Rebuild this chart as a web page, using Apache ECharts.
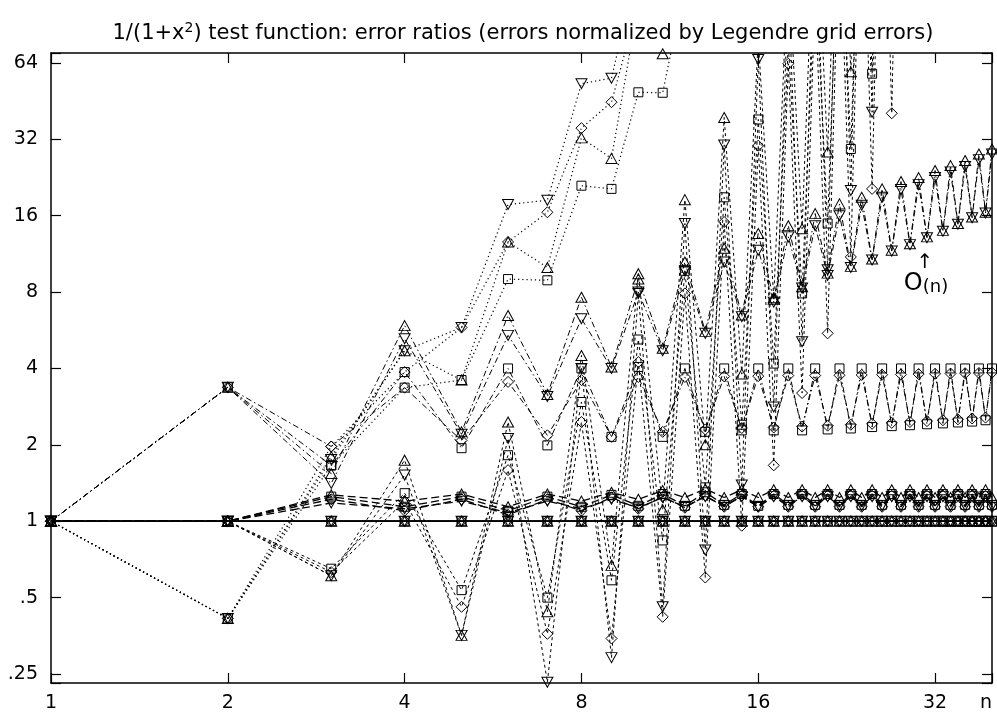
<!DOCTYPE html>
<html><head><meta charset="utf-8">
<script src="https://cdn.jsdelivr.net/npm/echarts@6/dist/echarts.min.js"></script>
<style>html,body{margin:0;padding:0;background:#fff}#c{width:997px;height:715px}</style>
</head><body><div id="c"></div>
<script>
// ---------- data ----------
const n = [1,2,3,4,5,6,7,8,9,10,11,12,13,14,15,16,17,18,19,20,21,22,23,24,25,26,27,28,29,30,31,32,33,34,35,36,37,38,39,40];
const xTickLabels = ['1','2','4','8','16','32'];
const yTickLabels = ['.25','.5','1','2','4','8','16','32','64'];

// Legendre grid (reference, ratio 1)
const legendre = [1,1,1,1,1,1,1,1,1,1,1,1,1,1,1,1,1,1,1,1,1,1,1,1,1,1,1,1,1,1,1,1,1,1,1,1,1,1,1,1];

// dotted grid (blows up)
const E_sq  = [1, 0.414, 1.66, 3.36, 3.6, 9.0, 8.9, 21, 20.4, 49, 48.8, 130];
const E_dia = [1, 0.414, 1.97, 3.87, 5.8, 12.6, 16.5, 35.4, 44.8, 110, 220];
const E_tri = [1, 0.414, 1.8, 4.7, 3.6, 12.6, 10.0, 32.4, 26.9, 110, 69.5, 250];
const E_tdn = [1, 0.414, 1.75, 4.7, 5.8, 17.7, 18.4, 53, 55.7, 160, 320];

// short-dashed grid (large oscillation)
const B_sq  = [1, 1, 0.65, 1.29, 0.535, 1.82, 0.5, 2.95, 0.585, 5.2, 0.84, 9.7, 1.36, 18.9, 2.4, 38.3, 4.18, 76, 7.9, 150, 14.9, 300, 29.3, 600, 58, 1200, 115, 2400];
const B_dia = [1, 1, 0.63, 1.2, 0.46, 1.59, 0.36, 2.46, 0.345, 4.24, 0.42, 7.9, 0.6, 15.1, 0.96, 30.2, 1.66, 63.5, 3.2, 125, 5.5, 250, 11, 500, 20.4, 1000, 40.5, 2000];
const B_tri = [1, 1, 0.61, 1.74, 0.355, 2.46, 0.44, 4.5, 0.67, 9.45, 1.11, 18.5, 2.0, 39, 3.8, 80, 7.6, 160, 14.2, 320, 28.5, 640, 59, 1280, 118, 2560, 240, 5000];
const B_tdn = [1, 1, 0.61, 1.52, 0.355, 2.12, 0.232, 4.0, 0.29, 7.9, 0.46, 14.9, 0.77, 30.4, 1.39, 66, 2.82, 130, 5.1, 260, 9.8, 520, 20.1, 1040, 40.9, 2080, 80, 4000];

// dash-dot grid (O(n) and O(1))
const C_tri = [1, 3.37, 1.54, 5.9, 2.25, 6.47, 3.16, 7.63, 4.05, 9.0, 4.8, 10.5, 5.6, 11.9, 6.5, 13.6, 7.5, 14.6, 8.4, 16.3, 9.5, 17.8, 10.1, 18.9, 10.8, 20.4, 11.7, 21.8, 12.4, 22.6, 13.2, 24.1, 14.0, 25.2, 14.9, 26.4, 15.8, 28.0, 16.5, 29.3];
const C_tdn = [1, 3.37, 1.41, 5.24, 2.2, 5.4, 3.1, 6.28, 4.0, 8.0, 4.7, 9.7, 5.5, 10.5, 6.4, 11.7, 7.3, 13.2, 8.3, 14.6, 9.3, 16.0, 10.0, 17.6, 10.7, 18.9, 11.6, 20.3, 12.3, 21.2, 13.1, 22.6, 13.9, 23.8, 14.8, 25.0, 15.7, 26.6, 16.4, 28.0];
const C_sq  = [1, 3.37, 1.66, 3.87, 1.94, 4.0, 1.99, 4.0, 2.15, 4.05, 2.15, 4.0, 2.25, 4.0, 2.28, 4.0, 2.28, 4.0, 2.28, 4.0, 2.3, 4.0, 2.32, 4.0, 2.35, 4.0, 2.37, 4.0, 2.39, 4.0, 2.41, 4.0, 2.43, 4.0, 2.45, 4.0, 2.47, 4.0, 2.5, 4.0];
const C_dia = [1, 3.37, 1.97, 3.36, 2.08, 3.54, 2.18, 3.6, 2.15, 3.7, 2.25, 3.7, 2.3, 3.72, 2.33, 3.73, 2.34, 3.75, 2.36, 3.75, 2.38, 3.76, 2.4, 3.77, 2.42, 3.78, 2.44, 3.79, 2.46, 3.8, 2.48, 3.81, 2.5, 3.82, 2.52, 3.83, 2.54, 3.84, 2.56, 3.85];

// long-dashed grid (near 1)
const D_sq  = [1, 1, 1.25, 1.14, 1.25, 1.1, 1.25, 1.14, 1.27, 1.15, 1.28, 1.15, 1.3, 1.16, 1.28, 1.15, 1.28, 1.16, 1.28, 1.16, 1.28, 1.16, 1.28, 1.16, 1.28, 1.16, 1.28, 1.16, 1.28, 1.16, 1.28, 1.16, 1.28, 1.16, 1.28, 1.16, 1.28, 1.16, 1.28, 1.16];
const D_tri = [1, 1, 1.27, 1.2, 1.28, 1.14, 1.28, 1.2, 1.3, 1.22, 1.32, 1.24, 1.34, 1.24, 1.33, 1.24, 1.33, 1.24, 1.33, 1.24, 1.33, 1.24, 1.33, 1.24, 1.33, 1.24, 1.33, 1.24, 1.33, 1.24, 1.33, 1.24, 1.33, 1.24, 1.33, 1.24, 1.33, 1.24, 1.33, 1.24];
const D_dia = [1, 1, 1.22, 1.1, 1.22, 1.06, 1.22, 1.1, 1.24, 1.12, 1.25, 1.13, 1.26, 1.14, 1.26, 1.14, 1.26, 1.14, 1.26, 1.14, 1.26, 1.14, 1.26, 1.14, 1.26, 1.14, 1.26, 1.14, 1.26, 1.14, 1.26, 1.14, 1.26, 1.14, 1.26, 1.14, 1.26, 1.14, 1.26, 1.14];
const D_tdn = [1, 1, 1.18, 1.12, 1.2, 1.08, 1.2, 1.12, 1.22, 1.13, 1.24, 1.14, 1.25, 1.15, 1.25, 1.14, 1.25, 1.15, 1.25, 1.15, 1.25, 1.15, 1.25, 1.15, 1.25, 1.15, 1.25, 1.15, 1.25, 1.15, 1.25, 1.15, 1.25, 1.15, 1.25, 1.15, 1.25, 1.15, 1.25, 1.15];

// ---------- styles ----------
const SYM = {
  sq:  {symbol: 'rect', symbolSize: [9, 9], symbolRotate: 0},
  dia: {symbol: 'diamond', symbolSize: [11, 11], symbolRotate: 0},
  tri: {symbol: 'triangle', symbolSize: [11, 10], symbolRotate: 0},
  tdn: {symbol: 'triangle', symbolSize: [11, 10], symbolRotate: 180}
};
const DASH = {
  solid: {type: 'solid', width: 1.3},
  dot:   {type: [1.2, 3], width: 1.2},
  short: {type: [3, 3], width: 1},
  dashdot: {type: [6, 3, 1.5, 3], width: 1},
  long:  {type: [8, 4], width: 1.3}
};
function mk(vals, sym, dash, z) {
  return Object.assign({
    type: 'line',
    data: n.map((x, i) => [x, vals[i] === undefined ? null : vals[i]]),
    showSymbol: true,
    connectNulls: false,
    clip: true,
    silent: true,
    z: z,
    lineStyle: {color: '#000', width: DASH[dash].width, type: DASH[dash].type},
    itemStyle: {color: 'rgba(0,0,0,0)', borderColor: '#000', borderWidth: 1},
    emphasis: {disabled: true}
  }, SYM[sym]);
}
const series = [
  mk(E_sq, 'sq', 'dot', 2), mk(E_dia, 'dia', 'dot', 2), mk(E_tri, 'tri', 'dot', 2), mk(E_tdn, 'tdn', 'dot', 2),
  mk(B_sq, 'sq', 'short', 3), mk(B_dia, 'dia', 'short', 3), mk(B_tri, 'tri', 'short', 3), mk(B_tdn, 'tdn', 'short', 3),
  mk(C_sq, 'sq', 'dashdot', 4), mk(C_dia, 'dia', 'dashdot', 4), mk(C_tri, 'tri', 'dashdot', 4), mk(C_tdn, 'tdn', 'dashdot', 4),
  mk(D_sq, 'sq', 'long', 5), mk(D_dia, 'dia', 'long', 5), mk(D_tri, 'tri', 'long', 5), mk(D_tdn, 'tdn', 'long', 5),
  mk(legendre, 'sq', 'solid', 6), mk(legendre, 'dia', 'solid', 6), mk(legendre, 'tri', 'solid', 6), mk(legendre, 'tdn', 'solid', 6)
];

function isPow2(v) { const l = Math.log2(v); return Math.abs(l - Math.round(l)) < 1e-6; }
function fmtX(v) {
  if (Math.abs(v - 40) < 1e-6) return 'n';
  if (!isPow2(v)) return '';
  return xTickLabels[Math.round(Math.log2(v))] || '';
}
function fmtY(v) {
  if (!isPow2(v)) return '';
  return yTickLabels[Math.round(Math.log2(v)) + 2] || '';
}
const FONT = 'DejaVu Sans';
const axisLine = {show: true, onZero: false, lineStyle: {color: '#000', width: 1.5}};
const axisTick = {show: true, inside: true, length: 10, lineStyle: {color: '#000', width: 1.2}};
const XMIN = 1, XMAX = 40, YMIN = 0.2304, YMAX = 70.0;

const chart = echarts.init(document.getElementById('c'), null, {renderer: 'canvas'});
chart.setOption({
  animation: false,
  backgroundColor: '#fff',
  title: {
    text: '{t|1/(1+x}{sup|2}{t|) test function: error ratios (errors normalized by Legendre grid errors)}',
    left: 518, top: 13, textAlign: 'center',
    textStyle: {fontFamily: FONT, fontSize: 21, fontWeight: 'normal', color: '#000',
      rich: {
        t: {fontFamily: FONT, fontSize: 21, color: '#000', verticalAlign: 'bottom', lineHeight: 26},
        sup: {fontFamily: FONT, fontSize: 14, color: '#000', verticalAlign: 'bottom', lineHeight: 26, padding: [0, 0, 9, 0]}
      }}
  },
  grid: {left: 51, right: 5, top: 53, bottom: 32, containLabel: false},
  xAxis: [
    {type: 'log', logBase: 2, min: XMIN, max: XMAX, position: 'bottom', axisLine, axisTick,
     splitLine: {show: false}, minorTick: {show: false},
     axisLabel: {formatter: fmtX, color: '#000', fontFamily: FONT, fontSize: 19, margin: 11, alignMaxLabel: 'right'}},
    {type: 'log', logBase: 2, min: XMIN, max: XMAX, position: 'top', axisLine, axisTick,
     splitLine: {show: false}, axisLabel: {show: false}}
  ],
  yAxis: [
    {type: 'log', logBase: 2, min: YMIN, max: YMAX, position: 'left', axisLine, axisTick,
     splitLine: {show: false}, minorTick: {show: false},
     axisLabel: {formatter: fmtY, color: '#000', fontFamily: FONT, fontSize: 19, margin: 13}},
    {type: 'log', logBase: 2, min: YMIN, max: YMAX, position: 'right', axisLine, axisTick,
     splitLine: {show: false}, axisLabel: {show: false}}
  ],
  series: series,
  graphic: [
    {type: 'text', x: 925, y: 263, silent: true,
     style: {text: '\u2191', fill: '#000', font: '20px "DejaVu Sans"', align: 'center', verticalAlign: 'middle'}},
    {type: 'text', x: 926, y: 296, silent: true,
     style: {text: '{o|O}{p|(n)}', fill: '#000', align: 'center', verticalAlign: 'bottom',
       rich: {o: {fontFamily: FONT, fontSize: 24, verticalAlign: 'bottom', lineHeight: 26},
              p: {fontFamily: FONT, fontSize: 18, verticalAlign: 'bottom', lineHeight: 26}}}}
  ]
});
</script>
</body></html>
